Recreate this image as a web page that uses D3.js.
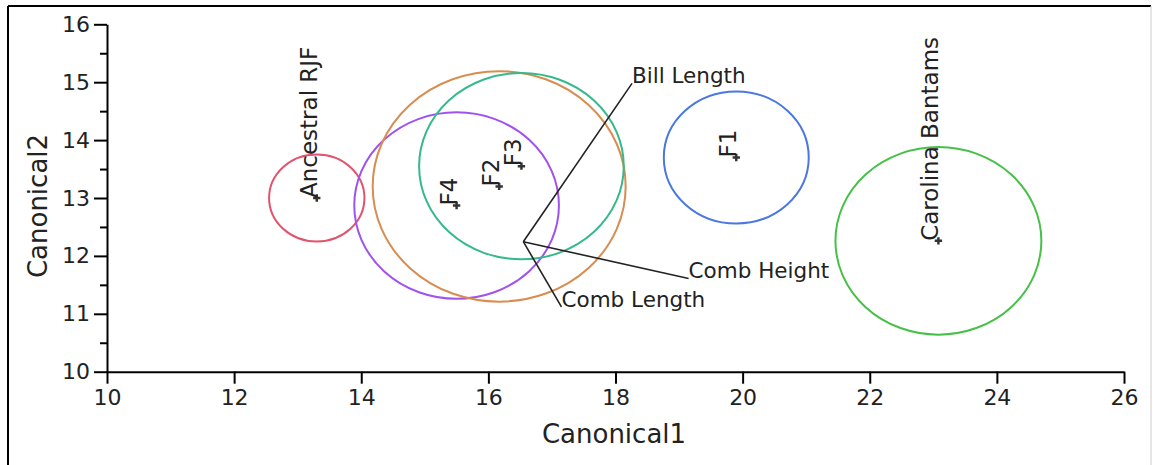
<!DOCTYPE html>
<html lang="en">
<head>
  <meta charset="UTF-8">
  <title>Canonical plot</title>
  <script src="https://d3js.org/d3.v7.min.js"></script>
  <style>
    body { margin: 0; background: #fff; }
    svg { display: block; font-family: "DejaVu Sans", sans-serif; }
  </style>
</head>
<body>
  <svg id="chart"></svg>

  <script>
    // groups: canonical means and confidence circle radius (data units)
    const groups = ["Ancestral RJF", "F4", "F2", "F3", "F1", "Carolina Bantams"];
    const meanX = [13.3, 15.5, 16.17, 16.52, 19.9, 23.08];
    const meanY = [13.0, 12.87, 13.2, 13.55, 13.7, 12.26];
    const radius = [0.75, 1.61, 1.99, 1.61, 1.14, 1.62];
    const colors = ["#e0546e", "#a052ee", "#d98c4f", "#35b98a", "#4a78e0", "#46c046"];

    // biplot rays
    const rayNames = ["Bill Length", "Comb Height", "Comb Length"];
    const rayX = [18.26, 19.15, 17.15];
    const rayY = [14.98, 11.61, 11.12];
    const rayOrigin = [16.55, 12.245];

    const xTicks = [10, 12, 14, 16, 18, 20, 22, 24, 26];
    const yTicks = [10, 11, 12, 13, 14, 15, 16];
    const yMinor = [10.5, 11.5, 12.5, 13.5, 14.5, 15.5];

    const width = 1153, height = 465;
    const svg = d3.select("#chart").attr("width", width).attr("height", height);

    const x = d3.scaleLinear().domain([10, 26]).range([107, 1124]);
    const y = d3.scaleLinear().domain([10, 16]).range([371.7, 24.3]);

    // outer frame
    svg.append("line").attr("x1", 8).attr("y1", 6).attr("x2", 8).attr("y2", height)
      .style("stroke", "#000").style("stroke-width", 2);
    svg.append("line").attr("x1", 8).attr("y1", 6).attr("x2", 1151).attr("y2", 6)
      .style("stroke", "#000").style("stroke-width", 2);
    svg.append("line").attr("x1", 1151).attr("y1", 6).attr("x2", 1151).attr("y2", height)
      .style("stroke", "#ccc").style("stroke-width", 1);

    // axes
    svg.append("g")
      .attr("transform", `translate(${x(10)},0)`)
      .call(d3.axisLeft(y).tickValues(yTicks).tickFormat(d3.format("d"))
        .tickSize(13).tickSizeOuter(0).tickPadding(4));
    svg.append("g")
      .attr("transform", `translate(${x(10)},0)`)
      .call(d3.axisLeft(y).tickValues(yMinor).tickSize(7).tickFormat(""))
      .select(".domain").remove();

    svg.append("g")
      .attr("transform", `translate(0,${y(10)})`)
      .call(d3.axisBottom(x).tickValues(xTicks).tickFormat(d3.format("d"))
        .tickSize(12).tickSizeOuter(0).tickPadding(6));

    svg.selectAll(".tick line, .domain").style("stroke", "#000").style("stroke-width", 2);
    svg.selectAll(".tick text")
      .style("font-family", "DejaVu Sans, sans-serif")
      .style("font-size", "22px")
      .style("fill", "#222");

    svg.append("text")
      .attr("x", 614).attr("y", 443)
      .attr("text-anchor", "middle")
      .style("font-size", "26px").style("fill", "#222")
      .text("Canonical1");
    svg.append("text")
      .attr("transform", "translate(47,206) rotate(-90)")
      .attr("text-anchor", "middle")
      .style("font-size", "26px").style("fill", "#222")
      .text("Canonical2");

    // confidence circles (circles in data units)
    const kx = x(1) - x(0), ky = y(0) - y(1);
    svg.append("g").selectAll("ellipse")
      .data(groups)
      .enter().append("ellipse")
      .attr("cx", (d, i) => x(meanX[i]))
      .attr("cy", (d, i) => y(meanY[i]))
      .attr("rx", (d, i) => radius[i] * kx)
      .attr("ry", (d, i) => radius[i] * ky)
      .style("fill", "none")
      .style("stroke", (d, i) => colors[i])
      .style("stroke-width", 2);

    // biplot rays
    const rays = svg.append("g");
    rays.selectAll("line")
      .data(rayNames)
      .enter().append("line")
      .attr("x1", x(rayOrigin[0])).attr("y1", y(rayOrigin[1]))
      .attr("x2", (d, i) => x(rayX[i])).attr("y2", (d, i) => y(rayY[i]))
      .style("stroke", "#222").style("stroke-width", 1.6);
    rays.selectAll("text")
      .data(rayNames)
      .enter().append("text")
      .attr("x", (d, i) => x(rayX[i]))
      .attr("y", (d, i) => y(rayY[i]))
      .style("font-size", "21.5px").style("fill", "#222")
      .text(d => d);

    // means: markers and rotated labels
    const sym = d3.symbol().type(d3.symbolCross).size(30);
    svg.append("g").selectAll("path")
      .data(groups)
      .enter().append("path")
      .attr("d", sym)
      .attr("transform", (d, i) => `translate(${x(meanX[i])},${y(meanY[i])})`)
      .style("fill", "#333");
    svg.append("g").selectAll("text")
      .data(groups)
      .enter().append("text")
      .attr("transform", (d, i) => `translate(${x(meanX[i])},${y(meanY[i])}) rotate(-90)`)
      .style("font-size", "23px").style("fill", "#222")
      .text(d => d);
  </script>
</body>
</html>
